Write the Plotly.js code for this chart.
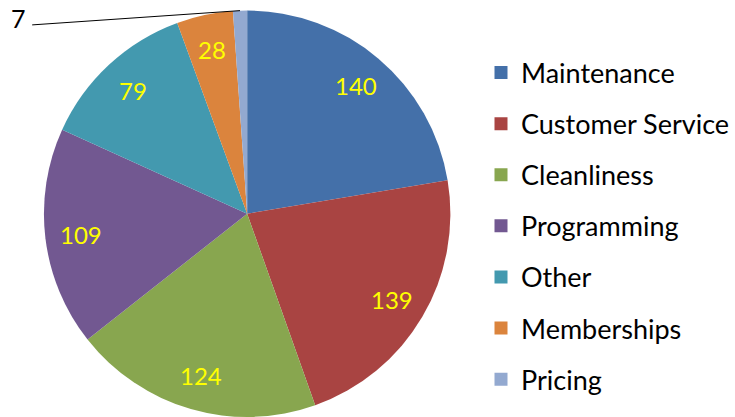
<!DOCTYPE html>
<html><head><meta charset="utf-8">
<script src="https://cdn.plot.ly/plotly-3.0.1.min.js"></script>
<style>html,body{margin:0;padding:0;background:#fff}#chart{width:735px;height:417px}</style>
</head><body><div id="chart"></div>
<script>
const categories = ['Maintenance','Customer Service','Cleanliness','Programming','Other','Memberships','Pricing'];
const counts = [140,139,124,109,79,28,7];
const colors = ['#4470A9','#A94442','#88A64F','#725891','#4399AF','#DB843D','#93A9D0'];
const outsideLabelIndex = 6;

const W = 735, H = 417;
const cx = 247.5, cy = 214, R = 203.5;
const labelRadius = 0.826;
const domX = [(cx - R)/W, (cx + R)/W];
const domY = [(H - (cy + R))/H, (H - (cy - R))/H];

const pie = {
  type:'pie', labels:categories, values:counts, sort:false, direction:'clockwise', rotation:0,
  marker:{colors:colors, line:{width:0}},
  textinfo:'none', textposition:'none',
  domain:{x:domX, y:domY}, showlegend:false, hoverinfo:'label+value'
};

const legendTraces = categories.map((c,i)=>({
  type:'scatter', x:[null], y:[null], mode:'markers', name:c, legendgroup:c,
  marker:{symbol:'square', size:13, color:colors[i]}, showlegend:true, hoverinfo:'skip'
}));

// slice label positions follow the pie's own angles (from the data)
const total = counts.reduce((a,b)=>a+b,0);
const annotations = [];
let cum = 0;
counts.forEach((v,i)=>{
  const ang = 2*Math.PI*(cum + v/2)/total;
  cum += v;
  if (i === outsideLabelIndex) {
    const px = cx + R*Math.sin(ang), py = cy - R*Math.cos(ang);
    annotations.push({xref:'paper', yref:'paper', x:19/W, y:(H-18)/H, text:String(v), showarrow:false,
      xanchor:'center', yanchor:'middle', font:{family:'Lato, sans-serif', size:25, color:'#000'}});
    annotations.push({xref:'paper', yref:'paper', x:px/W, y:(H-py)/H, text:' ', showarrow:true,
      arrowhead:0, arrowwidth:1, arrowcolor:'#000', axref:'pixel', ayref:'pixel', standoff:0, startstandoff:0,
      ax:31-px, ay:25-py, font:{size:1}});
  } else {
    const r = R*labelRadius;
    const lx = cx + r*Math.sin(ang), ly = cy - r*Math.cos(ang);
    annotations.push({xref:'paper', yref:'paper', x:lx/W, y:(H-ly)/H, text:String(v), showarrow:false,
      xanchor:'center', yanchor:'middle', font:{family:'Lato, sans-serif', size:24, color:'#FFFF00'}});
  }
});

const layout = {
  width:W, height:H, margin:{l:0,r:0,t:0,b:0}, paper_bgcolor:'#fff', plot_bgcolor:'#fff',
  xaxis:{visible:false}, yaxis:{visible:false},
  showlegend:true,
  legend:{x:0.655, y:0.8837, xanchor:'left', yanchor:'top', traceorder:'grouped', tracegroupgap:13,
    font:{family:'Lato, sans-serif', size:27, color:'#000'}, bgcolor:'rgba(0,0,0,0)'},
  annotations:annotations
};
Plotly.newPlot('chart',[pie].concat(legendTraces),layout,{displayModeBar:false,staticPlot:true});
</script></body></html>
